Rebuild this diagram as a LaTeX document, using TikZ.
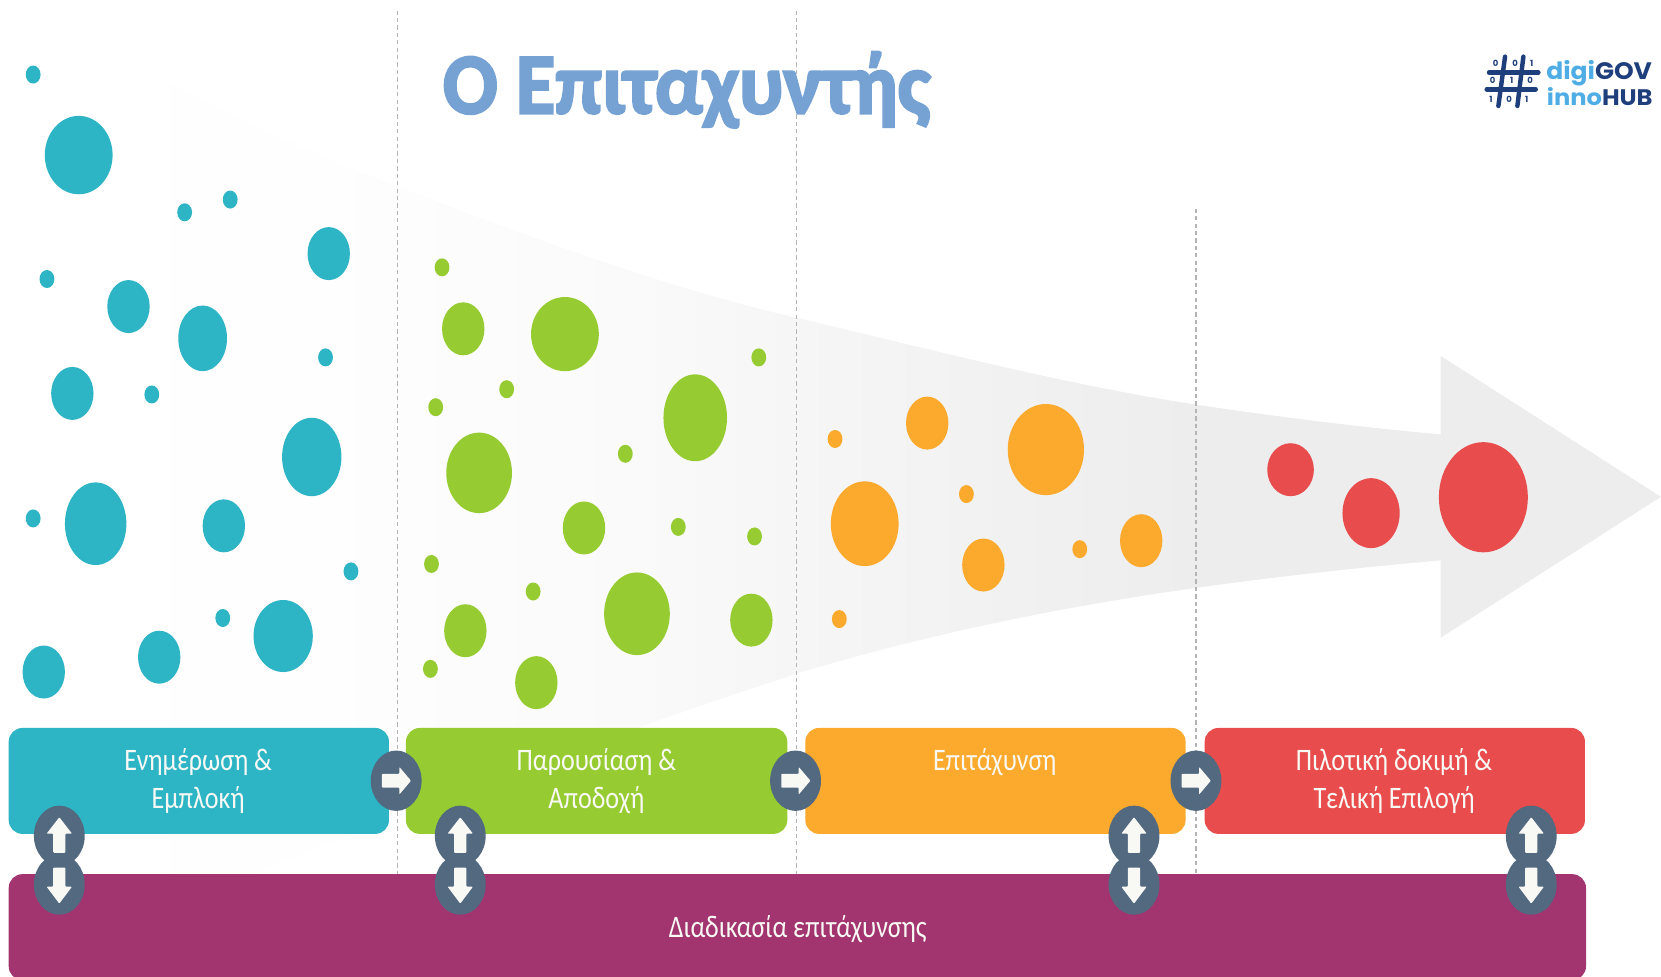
\documentclass[tikz,border=0pt]{standalone}
\usepackage{fontspec}
\usepackage{graphicx}
\usetikzlibrary{shapes.geometric}
\setmainfont{Carlito}
\newfontfamily\logofont{Poppins}
\newfontfamily\titlefont[FakeBold=3]{Carlito Bold}
\definecolor{teal1}{HTML}{2DB5C6}
\definecolor{green1}{HTML}{96CC32}
\definecolor{orange1}{HTML}{FCAA2D}
\definecolor{red1}{HTML}{E84C4C}
\definecolor{purple1}{HTML}{A2356F}
\definecolor{badgec}{HTML}{526980}
\definecolor{dashc}{HTML}{B4B4B4}
\definecolor{titlec}{HTML}{76A1D3}
\definecolor{navy1}{HTML}{1F3F7C}
\definecolor{sky1}{HTML}{4FADE5}
\definecolor{fadeZ}{HTML}{FEFEFE}
\definecolor{fadeA}{HTML}{FDFDFD}
\definecolor{fadeY}{HTML}{FAFAFA}
\definecolor{fadeB}{HTML}{F6F6F6}
\definecolor{fadeC}{HTML}{F0F0F0}
\definecolor{fadeD}{HTML}{EDEDED}
\definecolor{textc}{HTML}{F8F8F4}
\pgfdeclarehorizontalshading{arrowfade}{100bp}{color(0bp)=(white); color(25bp)=(white); color(34bp)=(fadeZ); color(36.4bp)=(fadeA); color(43.7bp)=(fadeY); color(48.6bp)=(fadeB); color(56.6bp)=(fadeC); color(60.8bp)=(fadeD); color(100bp)=(fadeD)}
\tikzset{
  stagebox/.style={rectangle,rounded corners=13pt,minimum height=100pt,anchor=north west,inner sep=0pt},
  badge/.style={ellipse,fill=badgec,minimum width=48pt,minimum height=57pt,inner sep=0pt},
  glyph/.style={fill=textc,rounded corners=0.8pt},
  dashline/.style={draw=dashc,line width=1.2pt,dash pattern=on 4pt off 3pt},
  lbl/.style={text=textc,inner sep=0pt,anchor=base},
  digit/.style={text=navy1,inner sep=0pt,font=\logofont\bfseries\fontsize{8}{8}\selectfont},
}
\newcommand\lbltext[1]{\scalebox{0.985}[1.18]{\fontsize{25}{30}\selectfont #1}}
\begin{document}
\begin{tikzpicture}[x=1pt,y=-1pt]
\useasboundingbox (0,0) rectangle (1568,922.3);
\clip (0,0) rectangle (1568,922.3);
% funnel arrow
\path[shading=arrowfade]
  (21,12) .. controls (140,68) and (260,132) .. (375,176)
  .. controls (500,224) and (630,272) .. (752,300)
  .. controls (880,330) and (1000,362) .. (1129,382)
  .. controls (1210,394) and (1290,404) .. (1360,410)
  -- (1360,336) -- (1568,469) -- (1360,602) -- (1360,529)
  .. controls (1280,536) and (1200,545) .. (1129,555)
  .. controls (1000,573) and (870,600) .. (752,636)
  .. controls (600,685) and (400,760) .. (240,825)
  -- (21,825) -- cycle;
% dashed
\draw[dashline] (375,10) -- (375,825);
\draw[dashline] (752,10) -- (752,825);
\draw[dashline] (1129,197) -- (1129,825);
% dots
\begin{scope}[shift={(0.3,0.4)}]
\foreach \x/\y/\a/\b in {31/70/7/8.5,74/146/32/37,174/200/7/8.5,217/188/7/8.5,310/239/20/25,44/263/7/8.5,121/289/20/25,191/319/23/31,307/337/7/8.5,68/371/20/25,143/372/7/8.5,294/431/28/37,31/489/7/8.5,90/494/29/39,211/496/20/25,331/539/7/8.5,210/583/7/8.5,267/600/28/34,150/620/20/25,41/634/20/25}
  \fill[teal1] (\x,\y) ellipse [x radius=\a, y radius=\b];
\foreach \x/\y/\a/\b in {417/252/7/8.5,437/310/20/25,533/315/32/35,716/337/7/8.5,478/367/7/8.5,411/384/7/8.5,656/394/30/41,590/428/7/8.5,452/446/31/38,551/498/20/25,640/497/7/8.5,712/506/7/8.5,407/532/7/8.5,503/558/7/8.5,601/579/31/39,439/595/20/25,709/585/20/25,406/631/7/8.5,506/644/20/25}
  \fill[green1] (\x,\y) ellipse [x radius=\a, y radius=\b];
\foreach \x/\y/\a/\b in {788/414/7/8.5,875/399/20/25,987/424/36/43,912/466/7/8.5,816/494/32/40,1077/510/20/25,1019/518/7/8.5,928/533/20/25,792/584/7/8.5}
  \fill[orange1] (\x,\y) ellipse [x radius=\a, y radius=\b];
\foreach \x/\y/\a/\b in {1218/443/22/25,1294/484/27/33,1400/469/42/52}
  \fill[red1] (\x,\y) ellipse [x radius=\a, y radius=\b];
\end{scope}
% boxes
\node[stagebox,fill=teal1,minimum width=359pt] (s1) at (8,687) {};
\node[stagebox,fill=green1,minimum width=360pt] (s2) at (383,687) {};
\node[stagebox,fill=orange1,minimum width=359pt] (s3) at (760,687) {};
\node[stagebox,fill=red1,minimum width=359pt] (s4) at (1137,687) {};
\node[stagebox,fill=purple1,minimum width=1489pt] (s5) at (8,825) {};
% labels
\node[lbl] (t1a) at (187,727) {\lbltext{Ενημέρωση \&}};
\node[lbl] (t1b) at (187,763) {\lbltext{Εμπλοκή}};
\node[lbl] (t2a) at (563,727) {\lbltext{Παρουσίαση \&}};
\node[lbl] (t2b) at (563,763) {\lbltext{Αποδοχή}};
\node[lbl] (t3a) at (939,727) {\lbltext{Επιτάχυνση}};
\node[lbl] (t4a) at (1316,727) {\lbltext{Πιλοτική δοκιμή \&}};
\node[lbl] (t4b) at (1316,763) {\lbltext{Τελική Επιλογή}};
\node[lbl] (t5) at (753,885) {\lbltext{Διαδικασία επιτάχυνσης}};
% badges
\foreach \n/\x in {a/374,b/751,c/1129}{
  \node[badge] (h\n) at (\x,737) {};
  \fill[glyph,shift={(h\n.center)}] (-13.5,-6.5) -- (3,-6.5) -- (3,-13) -- (14,0) -- (3,13) -- (3,6.5) -- (-13.5,6.5) -- cycle;
}
\foreach \n/\x in {a/56,b/434.5,c/1070.5,d/1445.5}{
  \node[badge] (u\n) at (\x,789) {};
  \node[badge] (d\n) at (\x,835) {};
  \fill[glyph,shift={(u\n.center)}] (-5.8,16) -- (-5.8,-2) -- (-12,-2) -- (0,-17.5) -- (12,-2) -- (5.8,-2) -- (5.8,16) -- cycle;
  \fill[glyph,shift={(d\n.center)}] (-5.8,-16) -- (-5.8,2) -- (-12,2) -- (0,18) -- (12,2) -- (5.8,2) -- (5.8,-16) -- cycle;
}
% title
\node[anchor=base west,inner sep=0pt,text=titlec] (title) at (418,107)
  {\resizebox{460pt}{58pt}{\titlefont Ο Επιταχυντής}};
% logo
\begin{scope}[shift={(1359.4,28.3)},x=0.3147pt,y=-0.3147pt]
  \draw[navy1,line width=4.2pt,line cap=round] (195,80) -- (175,228);
  \draw[navy1,line width=4.2pt,line cap=round] (250,80) -- (232,228);
  \draw[navy1,line width=4.2pt,line cap=round] (147,128) -- (295,128);
  \draw[navy1,line width=4.2pt,line cap=round] (140,178) -- (287,178);
  \foreach \n/\x/\y/\d in {p/167/100/0,q/225/100/0,r/275/100/1,s/158/152/0,t/215/152/1,u/270/152/0,v/153/208/1,w/207/208/0,z/260/208/1}
    \node[digit] (dig\n) at (\x,\y) {\d};
  \node[anchor=base west,inner sep=0pt] (logo1) at (318,150)
    {\resizebox{99.8pt}{18pt}{\logofont\bfseries\textcolor{sky1}{digi}\textcolor{navy1}{GOV}}};
  \node[anchor=base west,inner sep=0pt] (logo2) at (320,226)
    {\resizebox{99.8pt}{17pt}{\logofont\bfseries\textcolor{sky1}{inno}\textcolor{navy1}{HUB}}};
\end{scope}
\end{tikzpicture}
\end{document}
